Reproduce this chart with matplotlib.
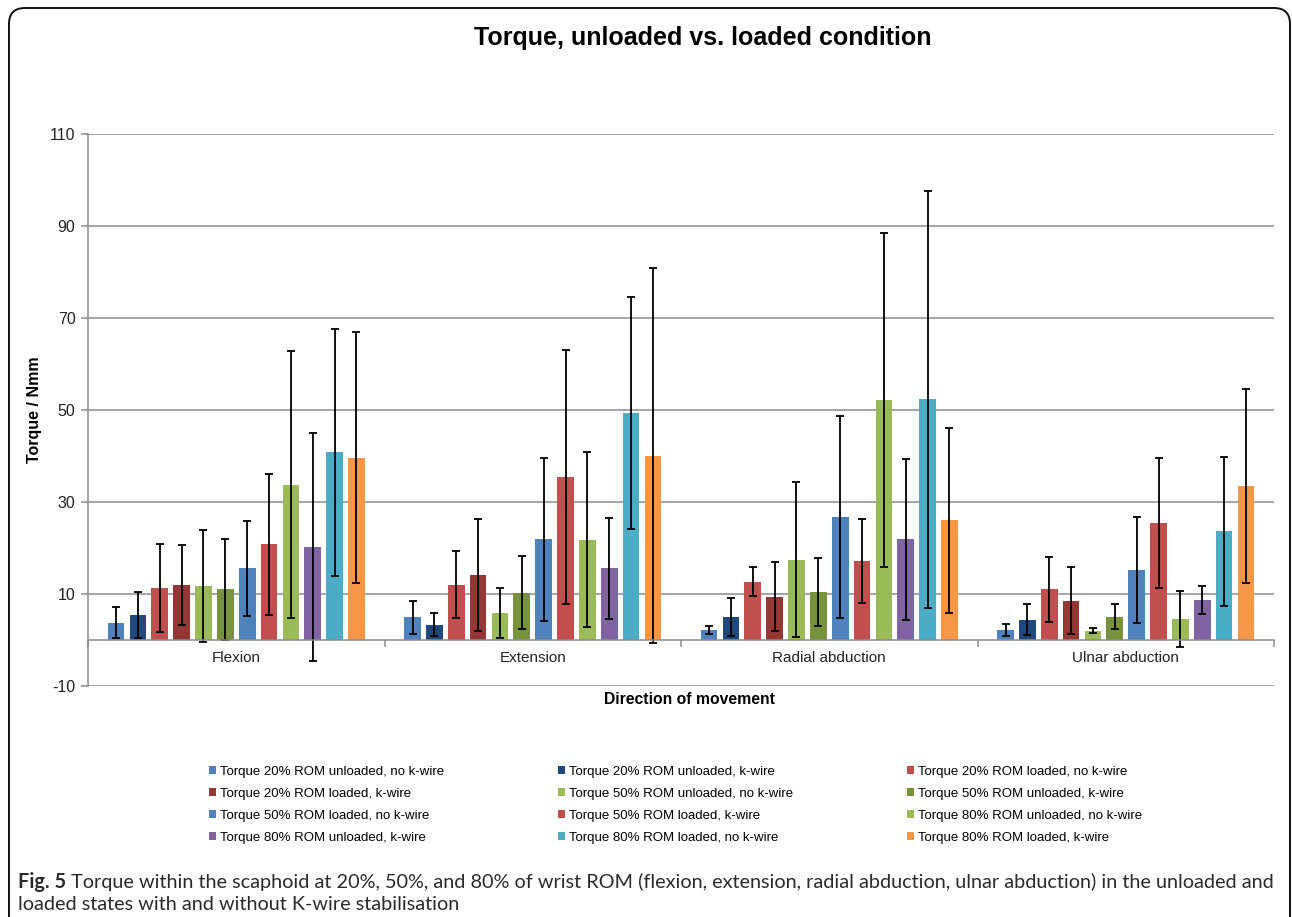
import numpy as np
import matplotlib.pyplot as plt
from matplotlib.patches import FancyBboxPatch
from matplotlib.transforms import IdentityTransform

directions = ['Flexion', 'Extension', 'Radial abduction', 'Ulnar abduction']

series_names = [
    'Torque 20% ROM unloaded, no k-wire',
    'Torque 20% ROM unloaded, k-wire',
    'Torque 20% ROM loaded, no k-wire',
    'Torque 20% ROM loaded, k-wire',
    'Torque 50% ROM unloaded, no k-wire',
    'Torque 50% ROM unloaded, k-wire',
    'Torque 50% ROM loaded, no k-wire',
    'Torque 50% ROM loaded, k-wire',
    'Torque 80% ROM unloaded, no k-wire',
    'Torque 80% ROM unloaded, k-wire',
    'Torque 80% ROM loaded, no k-wire',
    'Torque 80% ROM loaded, k-wire',
]

series_colors = ['#4F81BD', '#1F497D', '#C0504D', '#953735', '#9BBB59', '#77933C',
                 '#4F81BD', '#C0504D', '#9BBB59', '#8064A2', '#4BACC6', '#F79646']

# mean torque (Nmm), one row per series: flexion, extension, radial, ulnar
torque = [
    [3.8, 4.9, 2.2, 2.2],
    [5.4, 3.3, 5.0, 4.4],
    [11.3, 12.0, 12.7, 11.0],
    [12.0, 14.1, 9.4, 8.5],
    [11.7, 5.9, 17.5, 2.0],
    [11.0, 10.3, 10.4, 5.1],
    [15.6, 21.9, 26.8, 15.3],
    [20.8, 35.5, 17.2, 25.4],
    [33.8, 21.8, 52.1, 4.6],
    [20.2, 15.6, 21.9, 8.7],
    [40.8, 49.4, 52.3, 23.6],
    [39.6, 40.1, 26.0, 33.5],
]

# standard deviation, same layout
torque_sd = [
    [3.4, 3.6, 0.8, 1.3],
    [5.0, 2.5, 4.1, 3.4],
    [9.6, 7.3, 3.1, 7.0],
    [8.7, 12.2, 7.5, 7.3],
    [12.2, 5.4, 16.8, 0.55],
    [11.0, 8.0, 7.4, 2.8],
    [10.3, 17.7, 22.0, 11.5],
    [15.3, 27.6, 9.2, 14.2],
    [29.0, 19.0, 36.3, 6.1],
    [24.7, 11.0, 17.5, 3.05],
    [26.8, 25.2, 45.4, 16.1],
    [27.3, 40.7, 20.1, 21.0],
]

y_ticks = [-10, 10, 30, 50, 70, 90, 110]

plt.rcParams['font.family'] = ['Liberation Sans', 'DejaVu Sans']
plt.rcParams['axes.unicode_minus'] = False

W, H = 1292, 917
fig = plt.figure(figsize=(W / 100, H / 100), dpi=100)

# rounded frame round the whole figure
frame = FancyBboxPatch((9, -40), 1281, 949, boxstyle='round,pad=0,rounding_size=16',
                       transform=IdentityTransform(), facecolor='none',
                       edgecolor='#111111', linewidth=1.4)
fig.patches.append(frame)

ax = fig.add_axes([88 / W, 1 - 686 / H, (1274 - 88) / W, (686 - 134) / H])

x = np.arange(len(directions))
n = len(series_names)
step = 0.0737
width = 0.0564
grid_c = '#8c8c8c'

bars = []
for i in range(n):
    pos = x + (i - (n - 1) / 2) * step
    b = ax.bar(pos, torque[i], width, color=series_colors[i], zorder=3,
               label=series_names[i])
    ax.errorbar(pos, torque[i], yerr=torque_sd[i], fmt='none', ecolor='black',
                elinewidth=1.3, capsize=3, capthick=1.3, zorder=4)
    bars.append(b)

ax.set_xlim(-0.5, len(directions) - 0.5)
ax.set_ylim(-10, 110)
ax.set_yticks(y_ticks)
ax.yaxis.grid(True, color=grid_c, linewidth=1.1, zorder=0)
ax.set_axisbelow(True)

for s in ['top', 'right']:
    ax.spines[s].set_visible(False)
ax.spines['left'].set_color(grid_c)
ax.spines['left'].set_linewidth(1.1)
ax.spines['bottom'].set_position(('data', 0))
ax.spines['bottom'].set_color(grid_c)
ax.spines['bottom'].set_linewidth(1.1)
ax.spines['bottom'].set_zorder(5)

ax.set_xticks(x)
ax.set_xticklabels(directions, fontsize=11, color='#222222')
ax.tick_params(axis='x', which='major', length=0, pad=8)
ax.set_xticks(np.arange(-0.5, len(directions), 1.0), minor=True)
ax.tick_params(axis='x', which='minor', length=5, color=grid_c, width=1.1)
ax.tick_params(axis='y', length=5, color=grid_c, width=1.1, labelsize=11.5,
               labelcolor='#222222', pad=4)

fig.text(703 / W, 1 - 38 / H, 'Torque, unloaded vs. loaded condition',
         ha='center', va='center', fontsize=18, fontweight='bold')
fig.text(35 / W, 1 - 410 / H, 'Torque / Nmm', rotation=90, ha='center',
         va='center', fontsize=11.5, fontweight='bold')
fig.text(690 / W, 1 - 700 / H, 'Direction of movement', ha='center',
         va='center', fontsize=11.3, fontweight='bold')

# legend fills row by row in the reference, matplotlib fills columns
ncol = 3
order = [r * ncol + c for c in range(ncol) for r in range(n // ncol)]
leg = fig.legend([bars[k] for k in order], [series_names[k] for k in order],
                 ncol=ncol, loc='upper left', bbox_to_anchor=(209 / W, 1 - 766 / H),
                 frameon=False, fontsize=9.5, handlelength=0.55, handleheight=0.55,
                 handletextpad=0.3, columnspacing=8.6, labelspacing=0.75,
                 borderaxespad=0, borderpad=0)

cap_font = ['Lato', 'DejaVu Sans']
cap_size = 14.3
t1 = fig.text(18 / W, 1 - 882 / H, 'Fig. 5', ha='left', va='center',
              fontsize=cap_size, fontweight='bold', color='#2a2a2a', family=cap_font)
ax.annotate(' Torque within the scaphoid at 20%, 50%, and 80% of wrist ROM (flexion, '
            'extension, radial abduction, ulnar abduction) in the unloaded and',
            xy=(1, 0.5), xycoords=t1, ha='left', va='center', fontsize=cap_size,
            color='#2a2a2a', family=cap_font, annotation_clip=False)
fig.text(18 / W, 1 - 905 / H, 'loaded states with and without K-wire stabilisation',
         ha='left', va='center', fontsize=cap_size, color='#2a2a2a', family=cap_font)

fig.savefig('out.png', dpi=100)
